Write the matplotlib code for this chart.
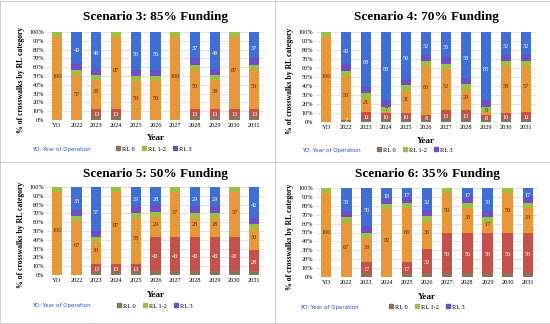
import matplotlib
matplotlib.use('Agg')
import matplotlib.pyplot as plt
import numpy as np
from matplotlib.patches import Patch
from matplotlib.lines import Line2D

years = ['YO', '2022', '2023', '2024', '2025', '2026', '2027', '2028', '2029', '2030', '2031']

# Scenario 3: 85% Funding
s3_rl0 = [0, 0, 13, 13, 0, 0, 0, 13, 13, 13, 13]
s3_rl12 = [100, 57, 38, 87, 50, 50, 100, 50, 38, 87, 50]
s3_rl3 = [0, 43, 49, 0, 50, 50, 0, 37, 49, 0, 37]

# Scenario 4: 70% Funding
s4_rl0 = [0, 2, 11, 10, 10, 8, 13, 13, 8, 10, 11]
s4_rl12 = [100, 55, 21, 7, 31, 60, 52, 29, 9, 58, 57]
s4_rl3 = [0, 43, 68, 83, 59, 32, 35, 58, 83, 32, 32]

# Scenario 5: 50% Funding
s5_rl0 = [0, 0, 13, 13, 13, 43, 43, 43, 43, 43, 28]
s5_rl12 = [100, 67, 30, 87, 58, 29, 57, 28, 28, 57, 30]
s5_rl3 = [0, 33, 57, 0, 29, 28, 0, 29, 29, 0, 42]

# Scenario 6: 35% Funding
s6_rl0 = [0, 0, 17, 0, 17, 32, 50, 50, 50, 50, 50]
s6_rl12 = [100, 67, 33, 82, 66, 36, 50, 33, 17, 50, 33]
s6_rl3 = [0, 33, 50, 18, 17, 32, 0, 17, 33, 0, 17]

scenarios = [
    ('Scenario 3: 85% Funding', s3_rl0, s3_rl12, s3_rl3),
    ('Scenario 4: 70% Funding', s4_rl0, s4_rl12, s4_rl3),
    ('Scenario 5: 50% Funding', s5_rl0, s5_rl12, s5_rl3),
    ('Scenario 6: 35% Funding', s6_rl0, s6_rl12, s6_rl3),
]

W, H = 550, 324
serif = 'Liberation Serif'

col_rl0 = '#c4524b'
col_rl0_dark = '#8a7458'
col_rl12 = '#e6983a'
col_rl12_cap = '#9fbf44'
col_rl3 = '#3f6fd4'
col_rl3_band = '#6a50c4'

# panel layouts in pixels: origin, axes box (left, top, right, bottom), text positions
panels = [
    dict(ox=0, oy=0, box=(47, 32, 264, 120), title_y=17, ylab_x=21, year_y=138, leg_y=149, yo_x=32, leg_x=154),
    dict(ox=275, oy=0, box=(41, 32, 261, 122), title_y=17, ylab_x=15, year_y=141, leg_y=150, yo_x=27, leg_x=140),
    dict(ox=0, oy=162, box=(47, 25, 264, 113), title_y=12, ylab_x=21, year_y=133, leg_y=144, yo_x=32, leg_x=155),
    dict(ox=275, oy=162, box=(41, 26, 263, 115), title_y=12, ylab_x=15, year_y=135, leg_y=145, yo_x=25, leg_x=152),
]

fig = plt.figure(figsize=(W / 100, H / 100), dpi=100)
fig.patch.set_facecolor('white')


def fx(px):
    return px / W


def fy(py):
    return 1 - py / H


for (title, rl0, rl12, rl3), p in zip(scenarios, panels):
    ox, oy = p['ox'], p['oy']
    l, t, r, b = p['box']
    ax = fig.add_axes([fx(ox + l), fy(oy + b), (r - l) / W, (b - t) / H])

    x = np.arange(len(years))
    rl0 = np.array(rl0)
    rl12 = np.array(rl12)
    rl3 = np.array(rl3)
    w = 0.52

    # main segments
    ax.bar(x, rl0, w, color=col_rl0, zorder=2)
    ax.bar(x, rl12, w, bottom=rl0, color=col_rl12, zorder=2)
    ax.bar(x, rl3, w, bottom=rl0 + rl12, color=col_rl3, zorder=2)

    # gradient-like accents of the original Excel fills
    ax.bar(x, np.minimum(rl0, 4), w, color=col_rl0_dark, zorder=3)
    cap = np.minimum(rl12, 6)
    ax.bar(x, cap, w, bottom=rl0 + rl12 - cap, color=col_rl12_cap, zorder=3)
    ax.bar(x, np.minimum(rl3, 7), w, bottom=rl0 + rl12, color=col_rl3_band, zorder=3)

    # value labels
    for i in range(len(years)):
        if rl0[i] > 0:
            ax.text(x[i], rl0[i] / 2 if rl0[i] > 4 else 2, str(rl0[i]), ha='center', va='center',
                    fontsize=4.6, family=serif, color='white', zorder=4)
        if rl12[i] > 0:
            ax.text(x[i], rl0[i] + rl12[i] / 2, str(rl12[i]), ha='center', va='center',
                    fontsize=4.6, family=serif, color='#5a2a10', zorder=4)
        if rl3[i] > 0:
            ax.text(x[i], rl0[i] + rl12[i] + rl3[i] / 2, str(rl3[i]), ha='center', va='center',
                    fontsize=4.6, family=serif, color='white', zorder=4)

    ax.set_xlim(-0.5, len(years) - 0.5)
    ax.set_ylim(0, 100)
    ax.set_yticks(range(0, 101, 10))
    ax.set_yticklabels([f'{v}%' for v in range(0, 101, 10)], family=serif, fontsize=4.4)
    ax.set_xticks(x)
    ax.set_xticklabels(years, family=serif, fontsize=4.5)
    ax.tick_params(length=0, pad=2)
    ax.yaxis.grid(True, color='#d9d9d9', linewidth=0.5, zorder=0)
    ax.set_axisbelow(True)
    for s in ax.spines.values():
        s.set_visible(False)

    # title and axis labels
    fig.text(fx(ox + (l + r) / 2), fy(oy + p['title_y']), title, ha='center', va='center',
             family=serif, fontweight='bold', fontsize=9.5)
    fig.text(fx(ox + p['ylab_x']), fy(oy + (t + b) / 2 + 4), '% of crosswalks by RL category',
             rotation=90, ha='center', va='center', family=serif, fontweight='bold', fontsize=5.6)
    fig.text(fx(ox + (l + r) / 2), fy(oy + p['year_y']), 'Year', ha='center', va='center',
             family=serif, fontweight='bold', fontsize=6.6)
    fig.text(fx(ox + p['yo_x']), fy(oy + p['leg_y']), 'YO: Year of Operation', ha='left', va='center',
             family='DejaVu Sans', fontsize=4.0, color='#3050c8')

    handles = [Patch(color=col_rl0_dark, label='RL 0'),
               Patch(color=col_rl12_cap, label='RL 1-2'),
               Patch(color=col_rl3_band, label='RL 3')]
    fig.legend(handles=handles, loc='center', bbox_to_anchor=(fx(ox + p['leg_x']), fy(oy + p['leg_y'])),
               ncol=3, frameon=False, prop={'family': serif, 'size': 4.6},
               handlelength=0.6, handleheight=0.6, handletextpad=0.3, columnspacing=1.2,
               borderpad=0)

# panel separators
line_col = '#c8c8c8'
fig.add_artist(Line2D([fx(275), fx(275)], [0, 1], color=line_col, linewidth=0.6))
fig.add_artist(Line2D([0, 1], [fy(162), fy(162)], color=line_col, linewidth=0.6))
fig.add_artist(Line2D([0, 1, 1, 0, 0], [0.002, 0.002, 0.998, 0.998, 0.002], color=line_col, linewidth=0.6))

fig.savefig('out.png', dpi=100)
